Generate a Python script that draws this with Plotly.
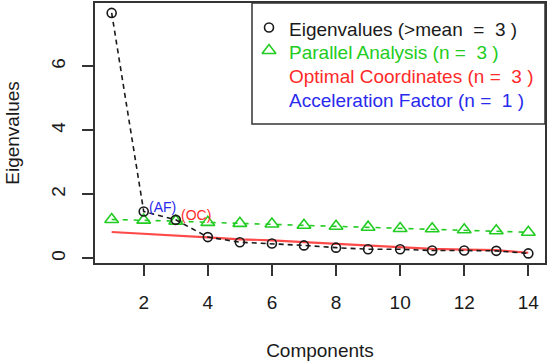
import plotly.graph_objects as go

components = list(range(1, 15))
eigenvalues = [7.67, 1.46, 1.20, 0.66, 0.50, 0.46, 0.40, 0.33, 0.28, 0.28, 0.24, 0.24, 0.23, 0.15]
parallel = [1.21, 1.19, 1.16, 1.12, 1.09, 1.07, 1.03, 1.00, 0.97, 0.93, 0.92, 0.89, 0.86, 0.81]
optimal = [0.82, 0.77, 0.72, 0.65, 0.59, 0.56, 0.50, 0.45, 0.40, 0.34, 0.29, 0.27, 0.25, 0.17]
x_ticks = [2, 4, 6, 8, 10, 12, 14]
y_ticks = [0, 2, 4, 6]
legend_labels = ["Eigenvalues (>mean  =  3 )", "Parallel Analysis (n =  3 )",
                 "Optimal Coordinates (n =  3 )", "Acceleration Factor (n =  1 )"]

GREEN = "#22cc22"
RED = "#ff2a2a"
BLUE = "#2a2aee"
DARK = "#1a1a1a"
FONT = "Liberation Sans, Arial, sans-serif"

# plot area geometry in px
W, H = 550, 364
L, R, T, B = 95, 5, 3, 101
PW, PH = W - L - R, H - T - B


def px_x(px):
    return (px - L) / PW


def px_y(py):
    return 1 - (py - T) / PH


fig = go.Figure()

fig.add_trace(go.Scatter(x=components, y=optimal, mode="lines",
                         line=dict(color="#ff4a4a", width=2.2), showlegend=False, hoverinfo="skip"))
fig.add_trace(go.Scatter(x=components, y=parallel, mode="lines+markers",
                         line=dict(color=GREEN, width=1.6, dash="5px,6px"),
                         marker=dict(symbol="triangle-up-open", size=12, color=GREEN, line=dict(width=1.6, color=GREEN)),
                         showlegend=False, hoverinfo="skip"))
fig.add_trace(go.Scatter(x=components, y=eigenvalues, mode="lines+markers",
                         line=dict(color=DARK, width=1.6, dash="5px,4px"),
                         marker=dict(symbol="circle-open", size=9, color=DARK, line=dict(width=1.6, color=DARK)),
                         showlegend=False, hoverinfo="skip"))

fig.add_annotation(x=components[1], y=eigenvalues[1], text="(AF)", showarrow=False,
                   xanchor="left", yanchor="middle", xshift=3, yshift=5,
                   font=dict(color=BLUE, size=14, family=FONT))
fig.add_annotation(x=components[2], y=eigenvalues[2], text="(OC)", showarrow=False,
                   xanchor="left", yanchor="middle", xshift=3, yshift=5,
                   font=dict(color=RED, size=14, family=FONT))

# Legend box (manual, R-style)
fig.add_shape(type="rect", xref="paper", yref="paper",
              x0=px_x(252), x1=1, y0=px_y(124), y1=1,
              line=dict(color="#333333", width=1.5), fillcolor="white", layer="below")
legend_colors = [DARK, GREEN, RED, BLUE]
legend_rows = [29.5, 53, 76.5, 100]
for lab, col, ry in zip(legend_labels, legend_colors, legend_rows):
    fig.add_annotation(xref="paper", yref="paper", x=px_x(287), y=px_y(ry), text=lab,
                       showarrow=False, xanchor="left", yanchor="middle",
                       font=dict(color=col, size=19, family=FONT))
# legend keys on an overlay axis
fig.add_trace(go.Scatter(x=[px_x(269)], y=[px_y(27.5)], xaxis="x2", yaxis="y2", mode="markers",
                         marker=dict(symbol="circle-open", size=9, color=DARK, line=dict(width=1.6, color=DARK)),
                         showlegend=False, hoverinfo="skip"))
fig.add_trace(go.Scatter(x=[px_x(269)], y=[px_y(50.5)], xaxis="x2", yaxis="y2", mode="markers",
                         marker=dict(symbol="triangle-up-open", size=12, color=GREEN, line=dict(width=1.6, color=GREEN)),
                         showlegend=False, hoverinfo="skip"))

axis_common = dict(showgrid=False, zeroline=False, showline=True, mirror=True,
                   linecolor="#333333", linewidth=1.5, ticks="outside", ticklen=11,
                   tickwidth=1.5, tickcolor="#333333", automargin=False,
                   tickfont=dict(size=19, family=FONT, color=DARK))

fig.update_layout(
    width=W, height=H,
    margin=dict(l=L, r=R, t=T, b=B),
    paper_bgcolor="white", plot_bgcolor="white",
    font=dict(family=FONT, size=19, color=DARK),
    xaxis=dict(range=[0.48, 14.52], tickvals=x_ticks, ticklabelstandoff=10,
               title=dict(text="Components", standoff=32, font=dict(size=19, family=FONT, color=DARK)),
               **axis_common),
    yaxis=dict(range=[-0.15, 7.98], tickvals=y_ticks, tickangle=-90, ticklabelstandoff=10,
               title=dict(text="Eigenvalues", standoff=23, font=dict(size=19, family=FONT, color=DARK)),
               **axis_common),
    xaxis2=dict(overlaying="x", range=[0, 1], visible=False, fixedrange=True),
    yaxis2=dict(overlaying="y", range=[0, 1], visible=False, fixedrange=True),
    showlegend=False,
)

fig.write_html("out.html", config={"displayModeBar": False},
               post_script="document.body.style.margin='0';document.body.style.overflow='hidden';")
